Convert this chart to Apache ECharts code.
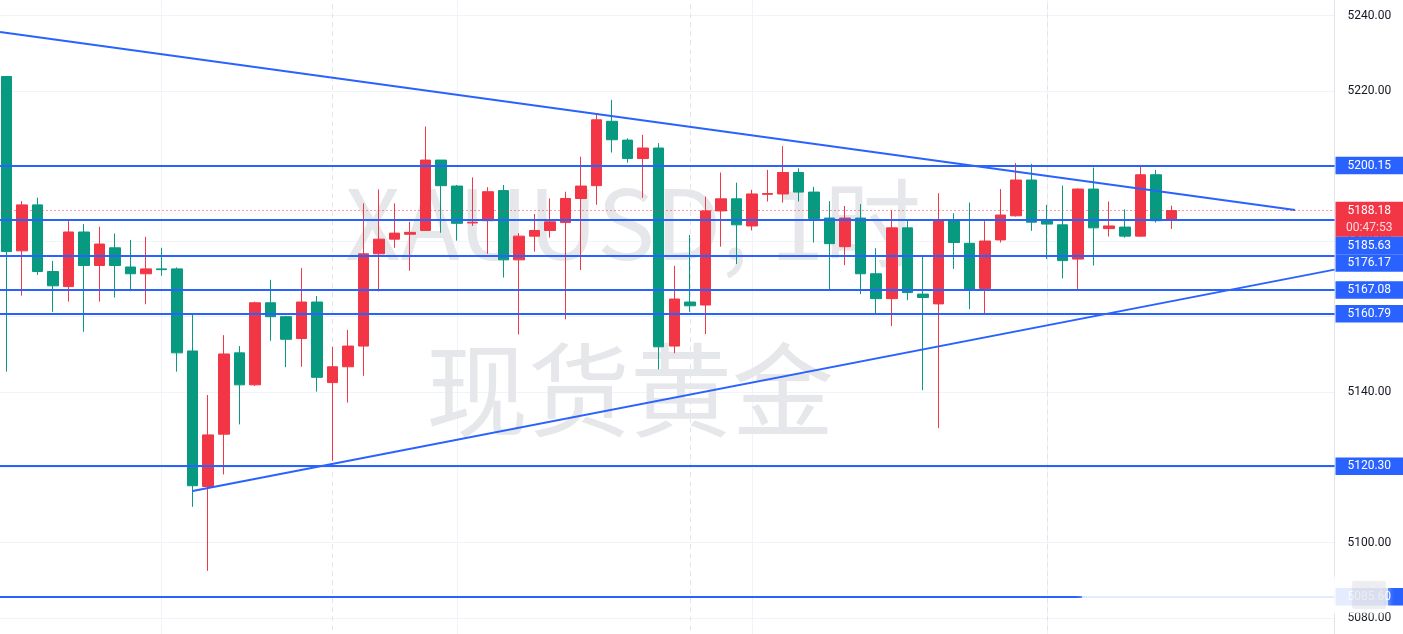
<!DOCTYPE html>
<html><head><meta charset="utf-8">
<script src="https://cdn.jsdelivr.net/npm/echarts@6/dist/echarts.min.js"></script>
<style>html,body{margin:0;padding:0;background:#fff;overflow:hidden}#c{width:1403px;height:634px}</style>
</head><body><div id="c"></div>
<script>
// ---- data (XAUUSD 1H) ----
const slotCount = 86; // bar slots visible on the time axis (76 bars + empty space on the right)
const categories = [];
for (let i = 0; i < slotCount; i++) categories.push('bar' + i);

const opens  = [5223.8,5177.5,5189.7,5172.0,5168.0,5182.5,5173.6,5178.3,5173.2,5171.4,5172.7,5172.7,5150.9,5114.9,5128.8,5150.4,5141.9,5163.7,5160.0,5154.2,5163.9,5142.5,5146.7,5152.2,5176.7,5180.6,5181.9,5182.9,5201.6,5194.7,5184.9,5185.5,5193.5,5175.1,5181.4,5182.9,5185.0,5191.4,5194.8,5211.9,5206.9,5202.0,5204.8,5152.2,5163.9,5163.1,5188.1,5191.3,5184.1,5192.5,5192.6,5198.3,5193.1,5186.2,5178.6,5186.2,5171.4,5164.8,5183.6,5166.0,5163.4,5185.4,5179.5,5167.5,5180.4,5186.8,5196.3,5185.4,5184.4,5175.3,5193.9,5183.4,5183.8,5181.4,5197.7,5185.7];
const closes = [5177.3,5189.7,5172.0,5168.2,5182.5,5173.6,5179.3,5173.6,5171.4,5172.7,5172.5,5150.4,5115.1,5128.6,5150.1,5141.9,5163.7,5160.0,5154.0,5163.9,5143.9,5146.7,5152.2,5176.7,5180.6,5182.2,5182.4,5201.6,5194.8,5184.8,5185.1,5193.2,5175.1,5181.4,5182.9,5185.2,5191.4,5194.7,5212.3,5207.0,5202.0,5204.8,5152.0,5164.7,5162.9,5188.1,5191.3,5184.4,5192.6,5192.7,5198.3,5193.1,5186.1,5179.4,5186.2,5171.4,5164.8,5183.6,5166.4,5165.1,5185.4,5179.7,5167.1,5180.1,5187.0,5196.3,5185.1,5184.6,5174.9,5193.9,5183.6,5184.1,5181.4,5197.7,5185.5,5188.18];
const lows   = [5145.4,5165.6,5171.1,5161.3,5164.0,5156.0,5164.0,5165.1,5166.8,5163.3,5170.9,5145.4,5109.5,5092.5,5118.1,5131.4,5141.6,5153.6,5146.6,5146.7,5140.1,5121.7,5137.2,5144.3,5166.7,5178.3,5172.2,5182.9,5182.3,5180.2,5184.1,5176.7,5170.4,5155.3,5177.3,5181.0,5159.3,5172.4,5189.7,5203.6,5200.9,5191.6,5146.0,5150.3,5161.3,5155.4,5178.6,5174.0,5182.9,5190.6,5190.3,5190.6,5179.7,5167.3,5173.7,5166.0,5160.9,5157.5,5164.4,5140.5,5130.4,5172.7,5162.0,5160.7,5179.7,5186.6,5182.8,5175.3,5170.2,5167.3,5173.6,5181.3,5181.0,5181.3,5185.0,5183.3];
const highs  = [5223.8,5190.7,5191.6,5174.8,5185.4,5184.6,5183.9,5182.1,5180.4,5181.2,5178.3,5173.1,5160.9,5139.2,5155.1,5152.2,5164.0,5169.8,5160.2,5172.9,5165.5,5152.0,5156.5,5190.1,5193.8,5190.1,5185.2,5210.5,5201.6,5195.0,5197.0,5194.4,5195.0,5182.2,5187.3,5191.4,5193.2,5202.5,5213.8,5217.6,5207.4,5208.3,5206.1,5173.5,5181.7,5191.9,5198.3,5195.6,5193.7,5199.0,5205.3,5199.4,5194.5,5190.7,5189.4,5189.9,5178.2,5188.3,5185.7,5176.1,5192.8,5187.5,5190.3,5185.4,5193.9,5200.8,5200.6,5189.7,5194.8,5194.1,5199.6,5190.6,5188.5,5200.3,5199.0,5189.5];

const levels = [5200.15, 5185.63, 5176.17, 5167.08, 5160.79, 5120.30, 5085.60];
const currentPrice = 5188.18;
const countdown = '00:47:53';
const upperTrend = [[-0.4, 5235.6], [82.96, 5188.34]];
const lowerTrend = [[12.0, 5113.7], [85.5, 5172.5]];
const sessionBreaks = [21, 44, 67];
const timeGrid = [10, 29, 48, 67];
const yMin = 5060, yMax = 5260, yStep = 20;
const watermark1 = 'XAUUSD, 1时';
const watermark2 = '现货黄金';

// ---- styles ----
const RED = '#F23645', GREEN = '#089981', BLUE = '#2962FF';
const FONT = 'Roboto, "Noto Sans", sans-serif';

const candleData = opens.map((o, i) => [o, closes[i], lows[i], highs[i]]);

const chart = echarts.init(document.getElementById('c'), null, {renderer: 'canvas'});

const option = {
  animation: false,
  backgroundColor: '#ffffff',
  grid: {left: -1.5, top: -59.8, width: 1336, height: 753, containLabel: false, outerBoundsMode: 'none'},
  xAxis: [
    {type: 'category', data: categories, boundaryGap: true, show: false},
    {type: 'value', min: -0.5, max: slotCount - 0.5, show: false}
  ],
  yAxis: [{
    type: 'value', position: 'right', min: yMin, max: yMax, interval: yStep, scale: true,
    axisLine: {show: true, onZero: false, lineStyle: {color: '#e0e3eb', width: 1}},
    axisTick: {show: false},
    splitLine: {show: true, lineStyle: {color: '#f0f3fa', width: 1}},
    axisLabel: {margin: 13, color: '#131722', fontSize: 12, fontFamily: FONT,
      formatter: v => v.toFixed(2)}
  }],
  series: [
    {
      type: 'candlestick', name: 'XAUUSD', xAxisIndex: 0, yAxisIndex: 0, z: 2,
      data: candleData, barWidth: 11,
      itemStyle: {color: RED, color0: GREEN, borderColor: RED, borderColor0: GREEN, borderWidth: 1},
      markLine: {
        silent: true, symbol: ['none', 'none'], label: {show: false}, z: 5, animation: false,
        data: levels.map(v => ({yAxis: v, lineStyle: {color: BLUE, width: 2, type: 'solid'}}))
          .concat([{yAxis: currentPrice, lineStyle: {color: RED, width: 1, type: [1, 3]}}])
      }
    },
    {
      type: 'line', name: 'upper', xAxisIndex: 1, yAxisIndex: 0, z: 4,
      data: upperTrend, symbol: 'none', silent: true,
      lineStyle: {color: BLUE, width: 2},
      markLine: {
        silent: true, symbol: ['none', 'none'], label: {show: false}, z: 1, animation: false,
        data: timeGrid.map(v => ({xAxis: v, lineStyle: {color: '#f0f3fa', width: 1, type: 'solid'}}))
          .concat(sessionBreaks.map(v => ({xAxis: v, lineStyle: {color: '#e3e5ea', width: 1, type: [5, 4]}})))
      }
    },
    {
      type: 'line', name: 'lower', xAxisIndex: 1, yAxisIndex: 0, z: 4,
      data: lowerTrend, symbol: 'none', silent: true,
      lineStyle: {color: BLUE, width: 2}
    }
  ]
};
chart.setOption(option);

// ---- price labels on the right scale (stacked so they do not overlap) ----
const ROW_H = 17.5;
const axisX = chart.convertToPixel({xAxisIndex: 1}, slotCount - 0.5);
const boxes = levels.map(v => ({value: v, color: BLUE, rows: [v.toFixed(2)]}));
boxes.push({value: currentPrice, color: RED, rows: [currentPrice.toFixed(2), countdown]});
boxes.forEach(b => {
  b.y = chart.convertToPixel({yAxisIndex: 0}, b.value);
  b.top = b.y - ROW_H / 2;
  b.h = ROW_H * b.rows.length;
});
boxes.sort((a, b) => a.top - b.top);
let prevBottom = -Infinity;
boxes.forEach(b => { b.top = Math.max(b.top, prevBottom); prevBottom = b.top + b.h; });

const W = chart.getWidth();
const graphics = [
  {type: 'text', z: 1, silent: true, x: 633, y: 223,
    style: {text: watermark1, fill: '#e6e7ea', font: '97px "Noto Sans CJK SC"', align: 'center', verticalAlign: 'middle', textAlign: 'center', textVerticalAlign: 'middle'}},
  {type: 'text', z: 1, silent: true, x: 630, y: 390,
    style: {text: watermark2, fill: '#e6e7ea', font: '102px "Noto Sans CJK SC"', align: 'center', verticalAlign: 'middle', textAlign: 'center', textVerticalAlign: 'middle'}}
];
boxes.forEach(b => {
  graphics.push({type: 'rect', z: 100, silent: true,
    shape: {x: axisX + 1, y: b.top, width: W - axisX - 1, height: b.h},
    style: {fill: b.color}});
  b.rows.forEach((t, k) => {
    graphics.push({type: 'text', z: 101, silent: true,
      x: axisX + 1 + (W - axisX - 1) / 2, y: b.top + ROW_H * (k + 0.5),
      style: {text: t, fill: k === 0 ? '#ffffff' : 'rgba(255,255,255,0.82)', font: '12px ' + FONT,
        align: 'center', verticalAlign: 'middle', textAlign: 'center', textVerticalAlign: 'middle'}});
  });
});
// faint blurred site watermark in the lower right corner
graphics.push({type: 'rect', z: 150, silent: true,
  shape: {x: 1082, y: 577, width: 306, height: 36, r: 4},
  style: {fill: 'rgba(255,255,255,0.72)', shadowBlur: 6, shadowColor: 'rgba(255,255,255,0.8)'}});
graphics.push({type: 'rect', z: 151, silent: true,
  shape: {x: 1352, y: 581, width: 34, height: 28, r: 2},
  style: {fill: 'rgba(170,170,178,0.16)', shadowBlur: 5, shadowColor: 'rgba(170,170,178,0.3)'}});

chart.setOption({graphic: graphics});
</script>
</body></html>
